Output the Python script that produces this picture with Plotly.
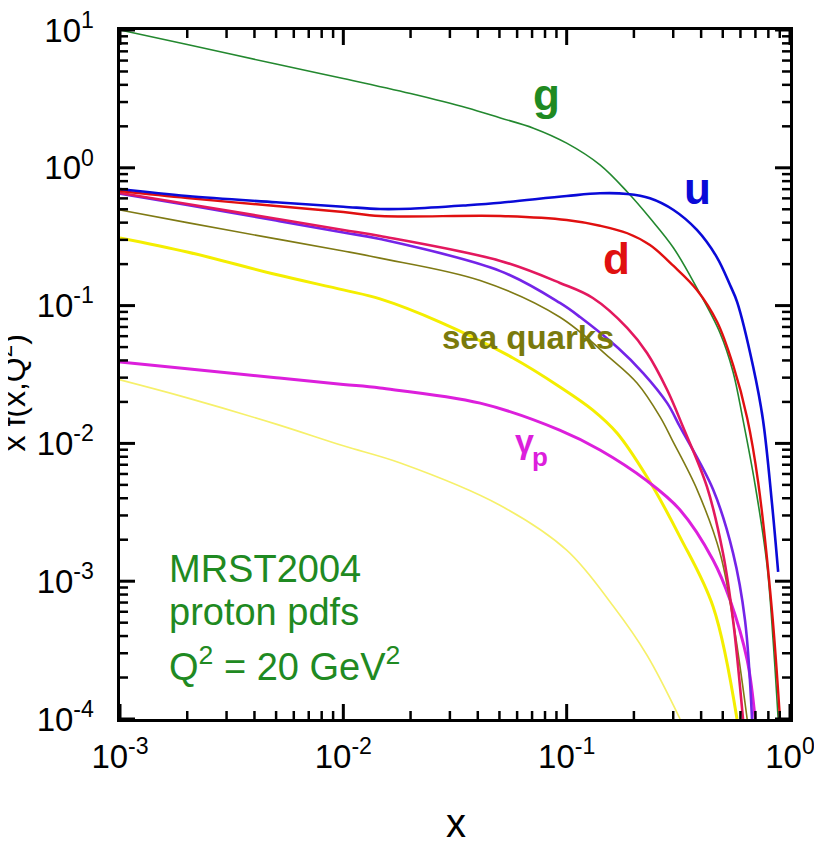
import math
import plotly.graph_objects as go

# ---------------- data ----------------
g_x = [0.001, 0.002, 0.005, 0.01, 0.02, 0.036, 0.0505, 0.071, 0.1, 0.141, 0.187, 0.236, 0.301, 0.383, 0.486, 0.556, 0.616, 0.698, 0.789, 0.84, 0.885]
g_y = [10.0, 7.85, 5.66, 4.45, 3.46, 2.72, 2.30, 1.94, 1.51, 1.05, 0.667, 0.432, 0.262, 0.134, 0.0633, 0.0330, 0.0148, 0.00499, 0.00131, 0.000374, 0.0001]

u_x = [0.001, 0.002, 0.005, 0.01, 0.0146, 0.02, 0.036, 0.0505, 0.1, 0.141, 0.187, 0.236, 0.301, 0.383, 0.47, 0.539, 0.58, 0.684, 0.757, 0.83, 0.885]
u_y = [0.702, 0.624, 0.562, 0.522, 0.502, 0.505, 0.535, 0.558, 0.624, 0.653, 0.646, 0.601, 0.494, 0.354, 0.225, 0.141, 0.106, 0.036, 0.0148, 0.0037, 0.00117]

d_x = [0.001, 0.002, 0.005, 0.01, 0.0146, 0.0505, 0.1, 0.141, 0.187, 0.236, 0.301, 0.383, 0.472, 0.556, 0.643, 0.72, 0.83, 0.902]
d_y = [0.679, 0.604, 0.528, 0.478, 0.447, 0.447, 0.418, 0.380, 0.335, 0.275, 0.194, 0.130, 0.0760, 0.0371, 0.0153, 0.00525, 0.000618, 0.0001]

dbar_x = [0.001, 0.002, 0.005, 0.01, 0.0146, 0.0505, 0.0933, 0.131, 0.187, 0.229, 0.282, 0.332, 0.425, 0.501, 0.556, 0.616]
dbar_y = [0.656, 0.546, 0.427, 0.354, 0.320, 0.211, 0.146, 0.1135, 0.0687, 0.0453, 0.0244, 0.01315, 0.00483, 0.0016, 0.00052, 0.0001]

ubar_x = [0.001, 0.002, 0.005, 0.01, 0.0146, 0.0505, 0.0933, 0.1148, 0.170, 0.220, 0.282, 0.322, 0.453, 0.556, 0.629, 0.676]
ubar_y = [0.650, 0.537, 0.414, 0.339, 0.304, 0.178, 0.1045, 0.0826, 0.0492, 0.0324, 0.0196, 0.01315, 0.0046, 0.0016, 0.00052, 0.0001]

s_x = [0.001, 0.002, 0.005, 0.01, 0.0146, 0.041, 0.093, 0.156, 0.2065, 0.262, 0.2966, 0.384, 0.486, 0.556, 0.643]
s_y = [0.494, 0.400, 0.305, 0.249, 0.221, 0.152, 0.0826, 0.0417, 0.0274, 0.01556, 0.0106, 0.0046, 0.0016, 0.00052, 0.0001]

c_x = [0.001, 0.002, 0.005, 0.01, 0.0146, 0.0271, 0.0575, 0.0933, 0.131, 0.168, 0.229, 0.322, 0.453, 0.579]
c_y = [0.310, 0.245, 0.168, 0.130, 0.112, 0.076, 0.0417, 0.0257, 0.01746, 0.0119, 0.0057, 0.00209, 0.00065, 0.0001]

gam_x = [0.001, 0.002, 0.005, 0.01, 0.0146, 0.041, 0.093, 0.141, 0.229, 0.322, 0.453, 0.539, 0.643, 0.698]
gam_y = [0.039, 0.0348, 0.030, 0.0268, 0.0252, 0.0196, 0.0125, 0.00896, 0.00535, 0.00329, 0.00142, 0.00073, 0.000268, 0.0001]

b_x = [0.001, 0.002, 0.005, 0.01, 0.018, 0.05, 0.1, 0.1615, 0.229, 0.322]
b_y = [0.0289, 0.0214, 0.0138, 0.0096, 0.0072, 0.00357, 0.00168, 0.00066, 0.00029, 0.0001]

x_tick_vals = [1e-3, 1e-2, 1e-1, 1e0]
x_tick_text = ["10<sup>-3</sup>", "10<sup>-2</sup>", "10<sup>-1</sup>", "10<sup>0</sup>"]
y_tick_vals = [1e-4, 1e-3, 1e-2, 1e-1, 1e0, 1e1]
y_tick_text = ["10<sup>-4</sup>", "10<sup>-3</sup>", "10<sup>-2</sup>", "10<sup>-1</sup>", "10<sup>0</sup>", "10<sup>1</sup>"]
mantissas = [2, 3, 4, 5, 6, 7, 8, 9]

# ---------------- figure ----------------
FONT = "Liberation Sans, Arial, Helvetica, sans-serif"
OFF = 8                      # page body margin of the html page
W, H = 822 - OFF, 841 - OFF
L, R, T, B = 112, 32, 22, 122
PW, PH = W - L - R, H - T - B
X_RANGE = [-3, 0]
Y_RANGE = [-4, 1]
TICK_COLOR = "black"


def px(xs):   # screen x -> paper
    return (xs - OFF - L) / PW


def py(ys):   # screen y -> paper
    return (H - B - (ys - OFF)) / PH


series = [
    (b_x, b_y, "#f6f06a", 1.6),
    (c_x, c_y, "#f4ee00", 3.0),
    (gam_x, gam_y, "#dc1fdc", 3.0),
    (s_x, s_y, "#7f7a14", 1.6),
    (ubar_x, ubar_y, "#7424e8", 2.6),
    (dbar_x, dbar_y, "#e3185e", 2.6),
    (g_x, g_y, "#23882f", 1.6),
    (d_x, d_y, "#e01010", 2.4),
    (u_x, u_y, "#0a0ad8", 2.6),
]

fig = go.Figure()
for xs, ys, col, w in series:
    fig.add_trace(go.Scatter(x=xs, y=ys, mode="lines",
                             line=dict(color=col, width=w, shape="spline", smoothing=1.0),
                             showlegend=False, hoverinfo="skip"))

# ---- tick marks (inside, on all four sides), placed on the log scales ----
minor_x = [m * 10 ** e for e in range(X_RANGE[0], X_RANGE[1]) for m in mantissas]
minor_y = [m * 10 ** e for e in range(Y_RANGE[0], Y_RANGE[1]) for m in mantissas]


def tick_trace(vals, length, width, along):
    xs, ys = [], []
    if along == "x":
        d = length / PH * (Y_RANGE[1] - Y_RANGE[0])
        lo, hi = Y_RANGE
        for v in vals:
            xs += [v, v, None, v, v, None]
            ys += [10 ** lo, 10 ** (lo + d), None, 10 ** (hi - d), 10 ** hi, None]
    else:
        d = length / PW * (X_RANGE[1] - X_RANGE[0])
        lo, hi = X_RANGE
        for v in vals:
            ys += [v, v, None, v, v, None]
            xs += [10 ** lo, 10 ** (lo + d), None, 10 ** (hi - d), 10 ** hi, None]
    fig.add_trace(go.Scatter(x=xs, y=ys, mode="lines", line=dict(color=TICK_COLOR, width=width),
                             showlegend=False, hoverinfo="skip", connectgaps=False))


tick_trace(minor_x, 8, 2.5, "x")
tick_trace(x_tick_vals, 15, 3, "x")
tick_trace(minor_y, 8, 2.5, "y")
tick_trace(y_tick_vals, 15, 3, "y")

axis_common = dict(type="log", showline=True, linecolor="black", linewidth=3,
                   mirror=True, ticks="", showgrid=False, zeroline=False, automargin=False,
                   tickfont=dict(family=FONT, size=33, color="black"))

fig.update_layout(
    xaxis=dict(range=X_RANGE, tickvals=x_tick_vals, ticktext=x_tick_text,
               ticklabelstandoff=6, **axis_common),
    yaxis=dict(range=Y_RANGE, tickvals=y_tick_vals, ticklabeloverflow="allow",
               ticktext=[t + "\u2002" for t in y_tick_text], **axis_common),
)

# cropped yellow marker at the right edge of the reference
shapes = [dict(type="path", xref="paper", yref="paper",
               path=f"M {px(818)} {py(158)} L {px(829)} {py(147)} L {px(840)} {py(158)} L {px(829)} {py(169)} Z",
               fillcolor="#f4ee00", line=dict(width=0))]

ann = []


def label(text, xp, yp, size, color, bold=False, xanchor="center", angle=0):
    t = f"<b>{text}</b>" if bold else text
    ann.append(dict(text=t, x=px(xp), y=py(yp), xref="paper", yref="paper",
                    xanchor=xanchor, yanchor="middle", showarrow=False,
                    textangle=angle,
                    font=dict(family=FONT, size=size, color=color)))


label("g", 546, 94, 44, "#1f8a22", bold=True)
label("u", 697, 188, 44, "#0a0ad8", bold=True)
label("d", 616, 258, 44, "#e01010", bold=True)
label("sea quarks", 528, 337, 33, "#7a7a0c", bold=True)
label("γ", 524, 441, 34, "#dc1fdc", bold=True)
label("p", 540, 457, 26, "#dc1fdc", bold=True)
label("MRST2004", 167, 569, 38, "#1f8a22", xanchor="left")
label("proton pdfs", 167, 612, 38, "#1f8a22", xanchor="left")
label("Q<sup>2</sup> = 20 GeV<sup>2</sup>", 167, 664, 38, "#1f8a22", xanchor="left")
label("x", 456, 823, 40, "black")
label("x f(x,Q<sup>2</sup>)", 11.5, 393, 32, "black", angle=-90)

fig.update_layout(
    width=W, height=H,
    margin=dict(l=L, r=R, t=T, b=B, autoexpand=False),
    paper_bgcolor="white", plot_bgcolor="white",
    annotations=ann,
    font=dict(family=FONT),
    shapes=shapes,
)

fig.write_html("out.html")
